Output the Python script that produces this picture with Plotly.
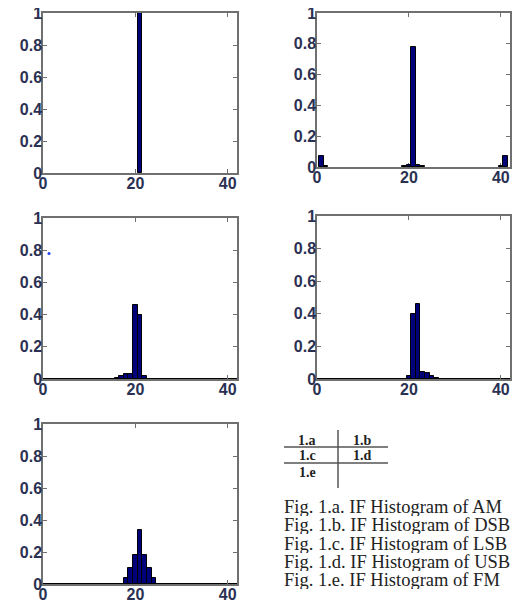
import plotly.graph_objects as go

# ---------------- data ----------------
am_x = [21]
am_y = [1.0]

dsb_x = [1, 2, 19, 20, 21, 22, 23, 40, 41]
dsb_y = [0.07, 0.005, 0.005, 0.01, 0.78, 0.01, 0.005, 0.005, 0.07]

lsb_x = [16, 17, 18, 19, 20, 21, 22]
lsb_y = [0.006, 0.02, 0.03, 0.03, 0.46, 0.40, 0.02]

usb_x = [20, 21, 22, 23, 24, 25, 26]
usb_y = [0.02, 0.40, 0.46, 0.04, 0.035, 0.02, 0.006]

fm_x = [18, 19, 20, 21, 22, 23, 24]
fm_y = [0.035, 0.10, 0.18, 0.34, 0.18, 0.10, 0.035]

stray_x = [1.3]
stray_y = [0.78]

x_ticks = [0, 20, 40]
y_ticks = [0, 0.2, 0.4, 0.6, 0.8, 1]
y_tick_text = ["0", "0.2", "0.4", "0.6", "0.8", "1"]

table_labels = ["1.a", "1.b", "1.c", "1.d", "1.e"]
captions = [
    "Fig. 1.a. IF Histogram of AM",
    "Fig. 1.b. IF Histogram of DSB",
    "Fig. 1.c. IF Histogram of LSB",
    "Fig. 1.d. IF Histogram of USB",
    "Fig. 1.e. IF Histogram of FM",
]

# ---------------- layout geometry ----------------
W, H = 523, 603
OFF = 8  # page body margin in the browser
def px_x(p):
    return (p - OFF) / W
def px_y(p):
    return 1 - (p - OFF) / H

panels = [
    (am_x, am_y, (43, 237), (13, 173), False),
    (dsb_x, dsb_y, (317, 510), (13, 167), False),
    (lsb_x, lsb_y, (43, 237), (218, 379), True),
    (usb_x, usb_y, (317, 510), (216, 379), True),
    (fm_x, fm_y, (43, 237), (424, 584), True),
]

BAR_FILL = "#00007a"
AX_COL = "#707070"
TICK_FONT = dict(family="Liberation Sans", size=16, color="#2a3152", weight="bold")

fig = go.Figure()
layout = dict(
    width=W, height=H, autosize=False,
    margin=dict(l=0, r=0, t=0, b=0, pad=0, autoexpand=False),
    paper_bgcolor="white", plot_bgcolor="white",
    showlegend=False, bargap=0,
)

for i, (xs, ys, (xl, xr), (yt, yb), base) in enumerate(panels, start=1):
    xa = "x" if i == 1 else f"x{i}"
    ya = "y" if i == 1 else f"y{i}"
    fig.add_trace(go.Bar(
        x=xs, y=ys, width=1, xaxis=xa, yaxis=ya,
        marker=dict(color=BAR_FILL, line=dict(color="black", width=1)),
        hoverinfo="x+y",
    ))
    xkey = "xaxis" if i == 1 else f"xaxis{i}"
    ykey = "yaxis" if i == 1 else f"yaxis{i}"
    layout[xkey] = dict(
        domain=[px_x(xl), px_x(xr)], anchor=ya, range=[0, 42],
        tickvals=x_ticks, ticktext=[str(t) for t in x_ticks],
        ticks="inside", ticklen=4, tickcolor=AX_COL, tickwidth=1,
        showline=True, linecolor=AX_COL, linewidth=1.5, mirror="ticks",
        showgrid=False, zeroline=False, tickfont=TICK_FONT, automargin=False,
        ticklabelstandoff=-5, ticklabeloverflow="allow",
        layer="below traces", fixedrange=True,
    )
    layout[ykey] = dict(
        domain=[px_y(yb), px_y(yt)], anchor=xa, range=[0, 1],
        tickvals=y_ticks, ticktext=y_tick_text,
        ticks="inside", ticklen=4, tickcolor=AX_COL, tickwidth=1,
        showline=True, linecolor=AX_COL, linewidth=1.5, mirror="ticks",
        showgrid=False, zeroline=base, zerolinecolor="black", zerolinewidth=1.5,
        tickfont=TICK_FONT, ticklabelstandoff=-4, ticklabeloverflow="allow",
        automargin=False, layer="below traces", fixedrange=True,
    )

fig.add_trace(go.Scatter(
    x=stray_x, y=stray_y, xaxis="x3", yaxis="y3", mode="markers",
    marker=dict(color="#1f3fff", size=3), hoverinfo="skip",
))

TL = dict(color="#555555", width=1.5)
shapes = [
    dict(type="line", xref="paper", yref="paper",
         x0=px_x(284), x1=px_x(388), y0=px_y(447), y1=px_y(447), line=TL),
    dict(type="line", xref="paper", yref="paper",
         x0=px_x(284), x1=px_x(388), y0=px_y(463), y1=px_y(463), line=TL),
    dict(type="line", xref="paper", yref="paper",
         x0=px_x(338), x1=px_x(338), y0=px_y(430), y1=px_y(488), line=TL),
]
layout["shapes"] = shapes

cell_pos = [(307, 440), (362, 440), (307, 456), (362, 456), (307, 472)]
annotations = []
for lab, (cx, cy) in zip(table_labels, cell_pos):
    annotations.append(dict(
        text=lab, xref="paper", yref="paper", x=px_x(cx), y=px_y(cy),
        xanchor="center", yanchor="middle", showarrow=False,
        font=dict(family="Liberation Serif", size=14, color="#222222", weight="bold"),
    ))

for k, cap in enumerate(captions):
    annotations.append(dict(
        text=cap, xref="paper", yref="paper", x=px_x(282), y=px_y(507 + 18.3 * k),
        xanchor="left", yanchor="middle", showarrow=False, height=18,
        font=dict(family="Liberation Serif", size=18.5, color="#222222"),
    ))
layout["annotations"] = annotations

fig.update_layout(**layout)
fig.write_html("out.html")
